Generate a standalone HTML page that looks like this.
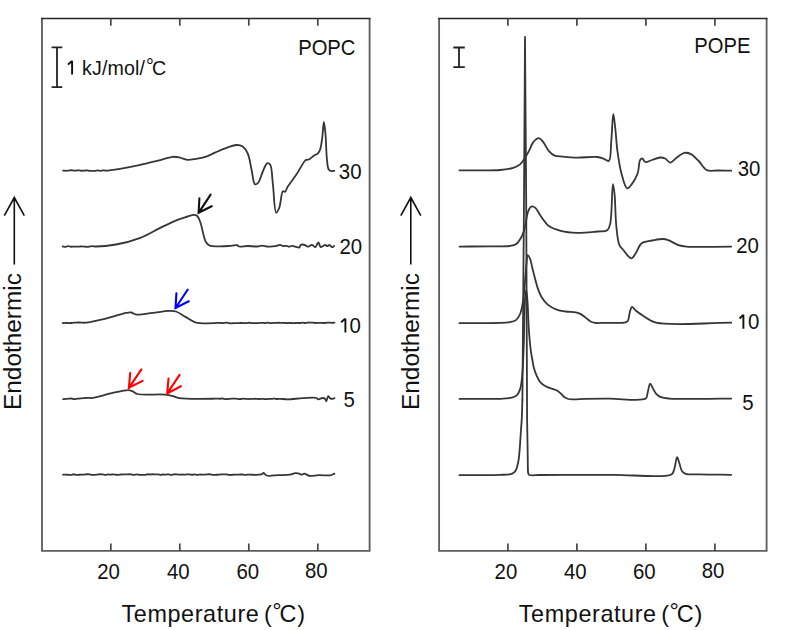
<!DOCTYPE html>
<html><head><meta charset="utf-8"><style>
html,body{margin:0;padding:0;background:#fff;}
svg{display:block;}
text{font-family:"Liberation Sans",sans-serif;fill:#111;}
</style></head><body>
<svg width="787" height="630" viewBox="0 0 787 630">
<g fill="none" stroke="#3a3a3a" stroke-width="1.6">
<path d="M42.0,550.9 V19.0 M369.6,19.0 V550.9 M41.0,550.9 H370.6" stroke="#5e5e5e" stroke-width="1.85"/><path d="M41.0,18.5 H370.6" stroke="#262626" stroke-width="1.6"/><line x1="110.8" y1="18.5" x2="110.8" y2="25.7" stroke="#444" stroke-width="1.7"/><line x1="110.8" y1="550.9" x2="110.8" y2="543.5" stroke="#444" stroke-width="1.7"/><line x1="179.8" y1="18.5" x2="179.8" y2="25.7" stroke="#444" stroke-width="1.7"/><line x1="179.8" y1="550.9" x2="179.8" y2="543.5" stroke="#444" stroke-width="1.7"/><line x1="248.8" y1="18.5" x2="248.8" y2="25.7" stroke="#444" stroke-width="1.7"/><line x1="248.8" y1="550.9" x2="248.8" y2="543.5" stroke="#444" stroke-width="1.7"/><line x1="317.8" y1="18.5" x2="317.8" y2="25.7" stroke="#444" stroke-width="1.7"/><line x1="317.8" y1="550.9" x2="317.8" y2="543.5" stroke="#444" stroke-width="1.7"/>
<path d="M439.1,550.9 V19.0 M766.6,19.0 V550.9 M438.1,550.9 H767.6" stroke="#5e5e5e" stroke-width="1.85"/><path d="M438.1,18.5 H767.6" stroke="#262626" stroke-width="1.6"/><line x1="507.9" y1="18.5" x2="507.9" y2="25.7" stroke="#444" stroke-width="1.7"/><line x1="507.9" y1="550.9" x2="507.9" y2="543.5" stroke="#444" stroke-width="1.7"/><line x1="576.9" y1="18.5" x2="576.9" y2="25.7" stroke="#444" stroke-width="1.7"/><line x1="576.9" y1="550.9" x2="576.9" y2="543.5" stroke="#444" stroke-width="1.7"/><line x1="645.9" y1="18.5" x2="645.9" y2="25.7" stroke="#444" stroke-width="1.7"/><line x1="645.9" y1="550.9" x2="645.9" y2="543.5" stroke="#444" stroke-width="1.7"/><line x1="714.9" y1="18.5" x2="714.9" y2="25.7" stroke="#444" stroke-width="1.7"/><line x1="714.9" y1="550.9" x2="714.9" y2="543.5" stroke="#444" stroke-width="1.7"/>
</g>
<g fill="none" stroke="#363636" stroke-width="1.8" stroke-linejoin="round" stroke-linecap="round">
<path d="M63.10,170.60 C64.08,170.67 65.12,170.82 66.03,170.81 C66.82,170.79 67.45,170.67 68.25,170.59 C69.17,170.49 70.26,170.25 71.24,170.25 C72.17,170.25 73.07,170.54 73.98,170.58 C74.88,170.62 75.77,170.53 76.66,170.51 C77.56,170.49 78.49,170.39 79.35,170.44 C80.17,170.49 80.89,170.72 81.71,170.76 C82.62,170.80 83.66,170.69 84.60,170.63 C85.48,170.56 86.32,170.35 87.16,170.39 C87.99,170.42 88.74,170.74 89.60,170.81 C90.55,170.90 91.66,170.81 92.60,170.81 C93.45,170.82 94.15,170.91 94.99,170.84 C95.95,170.76 97.08,170.30 98.03,170.32 C98.88,170.33 99.62,170.81 100.42,170.81 C101.23,170.82 102.03,170.36 102.89,170.32 C103.82,170.27 104.47,170.62 105.80,170.60 C108.75,170.56 114.85,169.62 120.00,168.80 C126.20,167.82 133.87,166.32 140.40,164.90 C146.50,163.57 152.38,162.00 158.00,160.60 C163.18,159.31 168.82,157.08 172.90,156.80 C175.68,156.61 177.66,157.11 180.00,157.60 C182.39,158.10 184.57,159.56 187.10,159.80 C189.87,160.06 193.00,159.29 196.00,158.80 C199.10,158.30 202.30,157.78 205.40,156.80 C208.63,155.78 211.82,154.07 215.00,152.70 C218.15,151.34 221.02,149.83 224.40,148.60 C228.16,147.23 233.23,145.05 236.60,145.00 C238.98,144.96 240.94,145.39 242.70,146.60 C244.78,148.03 246.42,150.64 247.80,153.70 C249.77,158.06 250.55,165.62 251.80,171.00 C252.89,175.70 253.17,183.23 254.90,184.20 C255.74,184.67 256.96,184.08 257.90,183.20 C259.83,181.41 261.31,174.57 263.00,171.00 C264.37,168.10 265.56,163.86 267.10,163.30 C268.04,162.96 269.28,163.46 270.10,164.50 C272.07,167.01 271.90,176.25 272.80,183.20 C273.93,191.91 274.26,212.27 276.20,212.70 C277.07,212.89 278.38,209.88 279.30,207.60 C280.83,203.79 281.16,192.34 282.90,191.30 C283.53,190.92 284.36,192.18 285.00,191.90 C286.03,191.45 286.37,188.81 287.60,186.80 C289.59,183.54 293.55,178.86 296.40,174.60 C299.39,170.14 303.11,162.37 305.10,160.60 C305.77,160.00 306.16,160.02 306.80,159.80 C307.56,159.54 308.57,159.60 309.40,159.20 C310.34,158.75 311.14,157.83 312.10,157.10 C313.19,156.27 314.60,155.00 315.60,154.50 C316.24,154.18 316.74,154.40 317.30,154.00 C318.20,153.35 319.18,151.93 319.90,150.20 C321.08,147.35 321.56,142.28 322.20,137.90 C322.93,132.93 323.31,121.91 323.90,121.90 C324.41,121.89 325.05,129.24 325.50,134.00 C326.14,140.81 326.16,152.38 326.90,158.90 C327.38,163.16 327.45,167.49 328.70,169.40 C329.38,170.43 330.35,170.87 331.30,171.10 C332.25,171.33 333.37,170.90 334.40,170.80"/>
<path d="M62.70,246.50 C63.74,246.61 64.89,246.91 65.81,246.82 C66.57,246.74 67.10,246.24 67.87,246.19 C68.83,246.13 70.13,246.68 71.14,246.73 C72.00,246.79 72.70,246.65 73.55,246.62 C74.49,246.59 75.59,246.58 76.54,246.57 C77.38,246.56 78.09,246.57 78.93,246.56 C79.86,246.54 80.86,246.44 81.86,246.45 C82.92,246.47 84.10,246.59 85.10,246.66 C85.95,246.71 86.68,246.84 87.49,246.81 C88.32,246.78 89.17,246.57 90.01,246.46 C90.86,246.35 91.68,246.18 92.57,246.18 C93.56,246.17 94.20,246.50 95.70,246.50 C99.51,246.51 108.98,245.80 116.00,244.50 C123.82,243.05 132.78,240.73 140.40,237.80 C147.62,235.02 154.28,230.69 160.70,227.60 C166.41,224.85 172.47,221.89 177.00,220.10 C180.13,218.86 182.40,218.28 185.10,217.40 C187.80,216.52 190.95,214.83 193.20,214.80 C194.79,214.78 196.18,215.05 197.30,216.00 C198.75,217.24 199.46,219.89 200.40,222.50 C201.71,226.13 202.77,232.47 203.80,236.00 C204.48,238.32 204.70,240.09 205.70,241.70 C206.64,243.22 207.75,244.69 209.50,245.50 C211.84,246.58 215.91,246.22 219.10,246.30 C222.27,246.38 225.51,246.19 228.60,246.00 C231.54,245.82 235.41,244.74 237.20,245.20 C238.12,245.44 238.18,246.24 239.10,246.50 C240.88,247.00 244.76,246.01 247.70,246.00 C250.79,245.99 254.58,246.65 257.20,246.50 C259.08,246.39 260.41,245.70 262.00,245.70 C263.58,245.70 265.27,246.34 266.70,246.50 C267.89,246.64 268.77,246.72 270.00,246.70 C271.56,246.67 273.62,246.52 275.30,246.20 C276.88,245.90 278.40,244.85 279.80,244.90 C281.05,244.95 282.14,246.07 283.30,246.20 C284.38,246.32 285.50,245.70 286.50,245.80 C287.42,245.90 288.19,246.68 289.10,246.70 C290.08,246.72 291.13,245.79 292.20,245.80 C293.36,245.81 294.59,246.63 295.80,246.90 C296.99,247.16 298.58,247.83 299.40,247.40 C300.13,247.03 300.06,245.37 300.70,244.90 C301.27,244.48 302.13,244.46 302.90,244.50 C303.76,244.55 304.72,244.94 305.60,245.30 C306.52,245.67 307.34,246.70 308.30,246.70 C309.39,246.70 310.64,244.86 311.80,244.90 C313.00,244.94 314.49,247.33 315.40,247.10 C316.24,246.89 316.62,244.85 317.20,244.00 C317.64,243.36 318.14,242.35 318.50,242.40 C318.88,242.45 319.06,243.77 319.40,244.50 C319.78,245.33 320.04,246.88 320.70,247.10 C321.37,247.33 322.59,246.20 323.40,245.80 C324.06,245.48 324.58,244.88 325.20,244.90 C325.90,244.92 326.67,246.20 327.40,246.20 C328.13,246.20 328.93,244.82 329.60,244.90 C330.27,244.98 330.80,246.34 331.40,246.70 C331.84,246.96 332.28,247.18 332.70,247.10 C333.18,247.01 333.63,246.37 334.10,246.00"/>
<path d="M62.70,323.10 C63.56,323.04 64.40,322.93 65.27,322.93 C66.18,322.93 67.11,323.10 68.06,323.11 C69.06,323.12 70.13,323.06 71.14,322.98 C72.14,322.89 73.13,322.66 74.11,322.59 C75.05,322.52 75.99,322.54 76.90,322.53 C77.77,322.51 78.55,322.48 79.47,322.50 C80.54,322.52 81.85,322.67 82.91,322.70 C83.84,322.72 84.24,322.83 85.50,322.70 C89.07,322.35 99.05,320.22 105.80,318.60 C112.62,316.96 121.67,313.71 126.20,312.90 C128.40,312.51 129.56,312.24 131.20,312.50 C132.92,312.77 134.07,314.28 136.30,314.60 C140.15,315.16 147.18,313.52 152.60,312.90 C158.01,312.28 164.48,310.99 168.80,310.90 C171.68,310.84 173.54,310.75 176.00,311.50 C178.95,312.40 181.98,314.85 185.10,316.60 C188.40,318.45 191.18,321.14 195.30,322.30 C200.65,323.81 211.46,323.22 215.00,323.10 C216.31,323.06 216.79,322.84 217.69,322.81 C218.59,322.78 219.53,322.85 220.39,322.90 C221.17,322.94 221.80,323.09 222.61,323.07 C223.60,323.04 224.90,322.66 225.88,322.63 C226.68,322.61 227.28,322.70 228.05,322.80 C228.94,322.91 229.96,323.24 230.90,323.31 C231.79,323.37 232.69,323.23 233.55,323.19 C234.37,323.15 235.09,323.07 235.95,323.04 C236.94,323.01 238.16,323.05 239.17,323.03 C240.08,323.02 240.92,322.94 241.73,322.95 C242.46,322.95 243.07,323.02 243.84,323.05 C244.77,323.08 245.98,323.16 246.91,323.10 C247.71,323.05 248.33,322.78 249.12,322.77 C250.04,322.77 251.12,323.12 252.12,323.16 C253.12,323.21 254.14,323.07 255.10,323.05 C256.02,323.03 256.91,323.08 257.79,323.04 C258.65,323.00 259.48,322.85 260.35,322.81 C261.25,322.78 262.27,322.77 263.11,322.84 C263.83,322.90 264.38,323.15 265.09,323.14 C265.93,323.12 266.92,322.61 267.84,322.61 C268.78,322.62 269.75,323.14 270.67,323.19 C271.54,323.23 272.35,323.00 273.21,322.94 C274.11,322.88 275.02,322.89 275.94,322.85 C276.87,322.82 277.80,322.73 278.75,322.74 C279.71,322.74 280.71,322.86 281.66,322.89 C282.57,322.93 283.44,322.92 284.33,322.95 C285.23,322.98 286.20,323.08 287.03,323.07 C287.75,323.06 288.28,322.94 289.02,322.93 C289.98,322.92 291.31,323.03 292.32,323.06 C293.16,323.08 293.87,323.10 294.66,323.08 C295.44,323.06 296.19,322.96 297.02,322.94 C297.95,322.93 299.05,323.09 299.97,323.02 C300.77,322.96 301.38,322.65 302.21,322.63 C303.22,322.60 304.56,323.07 305.61,323.02 C306.51,322.98 307.30,322.52 308.11,322.48 C308.84,322.44 309.46,322.67 310.24,322.70 C311.19,322.73 312.45,322.53 313.39,322.61 C314.16,322.67 314.73,322.96 315.46,323.01 C316.29,323.06 317.21,322.84 318.12,322.82 C319.06,322.80 320.01,322.86 321.00,322.89 C322.03,322.92 323.16,323.03 324.17,322.99 C325.10,322.96 326.02,322.80 326.84,322.72 C327.53,322.66 328.07,322.58 328.75,322.58 C329.56,322.58 330.47,322.75 331.37,322.78 C332.34,322.80 333.39,322.73 334.40,322.70"/>
<path d="M63.10,399.10 C64.17,399.00 65.30,398.89 66.32,398.81 C67.24,398.74 68.10,398.69 68.96,398.64 C69.80,398.59 70.60,398.45 71.45,398.51 C72.36,398.57 73.31,399.01 74.27,399.05 C75.26,399.09 76.31,398.80 77.32,398.70 C78.29,398.60 79.22,398.55 80.20,398.47 C81.21,398.38 82.35,398.26 83.31,398.18 C84.16,398.12 84.86,398.06 85.69,398.01 C86.60,397.96 87.59,397.85 88.56,397.86 C89.56,397.88 90.15,398.22 91.60,398.10 C95.39,397.80 105.49,394.56 111.90,393.20 C117.61,391.99 124.58,390.10 128.20,390.20 C130.03,390.25 130.90,390.65 132.30,391.20 C133.93,391.84 134.84,393.33 137.30,394.00 C142.68,395.47 158.37,393.94 164.80,394.60 C168.32,394.96 170.41,395.46 172.90,396.10 C175.10,396.66 176.07,397.61 179.00,398.10 C185.95,399.27 210.17,398.75 215.00,398.70 C216.22,398.69 216.49,398.61 217.28,398.62 C218.13,398.62 219.03,398.75 219.92,398.73 C220.84,398.71 221.78,398.44 222.72,398.50 C223.69,398.55 224.74,399.02 225.64,399.09 C226.40,399.15 227.03,399.03 227.78,398.99 C228.61,398.94 229.56,398.90 230.42,398.83 C231.26,398.76 232.01,398.61 232.88,398.57 C233.89,398.52 235.13,398.51 236.14,398.60 C237.03,398.68 237.84,398.97 238.65,399.03 C239.38,399.09 239.99,399.06 240.75,399.01 C241.66,398.95 242.73,398.67 243.70,398.67 C244.64,398.66 245.63,398.90 246.48,398.96 C247.20,399.02 247.74,399.07 248.47,399.07 C249.38,399.06 250.60,398.92 251.54,398.87 C252.33,398.84 252.98,398.82 253.74,398.80 C254.56,398.79 255.38,398.74 256.27,398.78 C257.28,398.83 258.53,399.12 259.49,399.10 C260.28,399.09 260.87,398.85 261.64,398.83 C262.51,398.82 263.52,399.05 264.46,399.09 C265.40,399.13 266.39,399.12 267.28,399.07 C268.07,399.02 268.75,398.84 269.53,398.81 C270.37,398.77 271.28,398.91 272.14,398.87 C272.99,398.83 273.82,398.54 274.64,398.56 C275.45,398.59 276.19,398.97 277.03,399.02 C277.97,399.07 278.78,398.80 280.00,398.80 C281.95,398.79 284.63,399.31 287.60,399.30 C291.82,399.29 297.94,398.41 302.90,398.20 C307.59,398.00 314.39,397.19 316.60,398.00 C317.44,398.31 317.41,399.15 318.10,399.30 C319.17,399.54 321.43,397.96 322.70,398.00 C323.60,398.03 324.41,398.29 325.00,398.80 C325.64,399.35 325.86,401.33 326.30,401.30 C326.92,401.26 327.40,396.26 328.20,396.10 C328.80,395.98 329.50,397.96 330.30,398.40 C330.99,398.78 331.88,398.85 332.60,398.80 C333.27,398.76 333.87,398.40 334.50,398.20"/>
<path d="M63.10,474.60 C64.04,474.63 64.99,474.65 65.93,474.69 C66.86,474.72 67.80,474.79 68.72,474.81 C69.60,474.82 70.50,474.86 71.34,474.77 C72.12,474.68 72.81,474.27 73.60,474.27 C74.48,474.27 75.50,474.82 76.38,474.91 C77.15,474.99 77.81,474.93 78.58,474.88 C79.45,474.83 80.40,474.62 81.32,474.58 C82.27,474.53 83.31,474.69 84.22,474.63 C85.04,474.57 85.72,474.30 86.56,474.26 C87.54,474.21 88.82,474.34 89.76,474.45 C90.51,474.53 91.06,474.72 91.78,474.79 C92.60,474.86 93.53,474.83 94.40,474.81 C95.27,474.79 96.10,474.77 97.02,474.68 C98.04,474.59 99.29,474.28 100.25,474.25 C101.03,474.23 101.59,474.30 102.36,474.40 C103.31,474.51 104.50,474.94 105.52,474.94 C106.45,474.93 107.34,474.50 108.22,474.45 C109.04,474.41 109.79,474.63 110.63,474.63 C111.53,474.62 112.54,474.37 113.47,474.39 C114.37,474.41 115.29,474.65 116.12,474.73 C116.86,474.81 117.49,474.90 118.22,474.88 C119.02,474.84 119.90,474.59 120.75,474.50 C121.59,474.42 122.41,474.36 123.30,474.35 C124.27,474.34 125.37,474.48 126.36,474.46 C127.29,474.44 128.19,474.24 129.05,474.25 C129.86,474.26 130.58,474.40 131.39,474.49 C132.27,474.58 133.25,474.83 134.16,474.82 C135.05,474.82 135.94,474.48 136.79,474.47 C137.58,474.47 138.30,474.67 139.09,474.74 C139.92,474.82 140.77,474.92 141.69,474.93 C142.72,474.95 143.95,474.90 144.98,474.77 C145.90,474.66 146.71,474.30 147.57,474.26 C148.40,474.22 149.23,474.51 150.03,474.51 C150.79,474.50 151.42,474.29 152.24,474.26 C153.24,474.22 154.56,474.36 155.60,474.38 C156.49,474.39 157.23,474.31 158.07,474.39 C158.97,474.47 159.98,474.90 160.85,474.90 C161.62,474.90 162.23,474.55 163.01,474.49 C163.92,474.43 165.03,474.65 165.98,474.62 C166.88,474.59 167.72,474.30 168.59,474.33 C169.49,474.35 170.41,474.82 171.32,474.81 C172.22,474.80 173.16,474.35 174.02,474.28 C174.77,474.21 175.39,474.26 176.17,474.31 C177.10,474.38 178.27,474.66 179.26,474.68 C180.17,474.70 181.06,474.49 181.90,474.49 C182.65,474.49 183.30,474.63 184.04,474.63 C184.85,474.63 185.72,474.53 186.56,474.47 C187.43,474.42 188.25,474.28 189.17,474.30 C190.21,474.34 191.54,474.76 192.48,474.73 C193.20,474.71 193.66,474.37 194.36,474.36 C195.25,474.36 196.43,474.93 197.38,474.94 C198.22,474.95 198.92,474.59 199.77,474.53 C200.74,474.47 201.92,474.67 202.88,474.67 C203.70,474.67 204.37,474.62 205.19,474.57 C206.13,474.51 207.27,474.34 208.21,474.29 C209.03,474.25 209.75,474.18 210.51,474.27 C211.29,474.36 212.00,474.75 212.85,474.84 C213.85,474.94 215.12,474.79 216.14,474.76 C217.03,474.74 217.82,474.77 218.64,474.69 C219.44,474.62 220.16,474.38 220.99,474.32 C221.92,474.26 223.03,474.33 223.95,474.35 C224.77,474.38 225.45,474.37 226.27,474.46 C227.20,474.55 228.30,474.88 229.22,474.95 C230.04,475.01 230.73,474.98 231.54,474.93 C232.44,474.88 233.49,474.65 234.39,474.59 C235.19,474.54 235.89,474.59 236.67,474.59 C237.49,474.58 238.29,474.54 239.19,474.53 C240.21,474.52 241.49,474.43 242.49,474.51 C243.35,474.59 244.05,474.91 244.84,474.92 C245.63,474.94 246.41,474.64 247.24,474.60 C248.13,474.56 248.77,474.69 250.00,474.70 C252.51,474.71 259.17,475.11 261.40,474.40 C262.45,474.07 262.75,472.97 263.50,473.00 C264.45,473.04 265.10,475.00 266.60,475.50 C269.20,476.37 274.65,475.24 278.60,475.10 C282.45,474.97 286.96,475.18 290.00,474.70 C292.09,474.37 293.57,473.35 295.20,473.20 C296.61,473.07 298.07,473.28 299.20,473.60 C300.10,473.85 300.69,474.67 301.50,474.70 C302.38,474.73 303.23,473.58 304.30,473.60 C305.77,473.63 307.48,475.56 309.50,475.90 C312.07,476.33 315.39,475.21 318.60,475.10 C322.21,474.97 327.23,475.82 330.10,475.30 C331.92,474.97 332.97,474.17 334.40,473.60"/>
<path d="M459.50,170.40 C466.33,170.37 473.21,170.37 480.00,170.30 C486.71,170.23 494.03,170.54 500.00,170.00 C504.90,169.56 509.69,168.98 513.30,167.80 C515.99,166.92 518.13,165.92 520.00,164.40 C521.81,162.93 523.00,160.95 524.40,158.90 C525.98,156.58 527.45,153.81 528.90,151.10 C530.42,148.25 531.41,144.42 533.30,142.20 C534.87,140.35 537.18,138.10 538.90,138.20 C540.50,138.29 541.86,140.48 543.30,142.20 C545.21,144.49 546.80,148.77 548.90,151.10 C550.64,153.04 552.39,154.68 554.60,155.60 C556.95,156.58 559.61,156.30 562.70,156.60 C566.79,157.00 571.81,157.50 577.00,157.60 C583.17,157.72 592.54,156.46 597.30,157.00 C599.96,157.30 601.46,157.92 603.40,158.60 C605.28,159.26 607.47,161.75 608.80,161.00 C611.27,159.60 610.58,147.95 611.30,140.70 C612.12,132.37 612.50,113.82 613.30,113.80 C613.89,113.78 614.68,123.08 615.30,128.50 C616.07,135.15 616.39,143.38 617.40,150.80 C618.42,158.28 619.57,166.53 621.40,173.20 C622.95,178.83 624.85,187.84 627.10,188.40 C628.47,188.74 630.14,186.24 631.60,184.40 C633.72,181.73 636.29,177.21 637.70,173.20 C639.15,169.09 638.75,162.13 640.10,160.00 C640.69,159.06 641.46,158.42 642.20,158.50 C643.20,158.61 644.00,161.62 645.40,162.00 C647.08,162.46 649.61,160.70 651.90,160.00 C654.47,159.21 657.69,157.62 660.10,157.50 C661.96,157.41 663.51,157.76 665.10,158.50 C666.90,159.34 668.42,162.58 670.20,162.60 C672.13,162.62 674.08,159.43 676.30,157.90 C678.77,156.19 681.80,153.41 684.40,152.90 C686.50,152.49 688.45,152.94 690.50,153.90 C693.21,155.17 696.06,158.39 698.70,161.00 C701.50,163.76 703.49,168.54 706.80,170.10 C709.97,171.59 714.11,170.40 718.00,170.50 C722.22,170.61 726.80,170.63 731.20,170.70"/>
<path d="M459.50,246.60 C469.67,246.50 480.90,246.41 490.00,246.30 C497.37,246.21 505.25,246.77 510.00,246.00 C512.73,245.56 514.48,245.30 516.30,244.00 C518.37,242.52 520.08,239.43 521.40,237.10 C522.57,235.02 523.28,233.12 524.00,230.80 C524.83,228.12 525.28,224.92 525.90,221.90 C526.54,218.79 526.91,215.03 527.80,212.40 C528.48,210.39 529.34,208.25 530.30,207.30 C530.89,206.72 531.48,206.40 532.20,206.40 C533.13,206.40 534.34,206.99 535.40,207.90 C537.09,209.37 538.74,213.09 540.40,215.50 C541.94,217.74 543.52,220.06 545.00,221.90 C546.20,223.40 546.80,224.59 548.50,225.80 C551.21,227.72 556.25,229.72 560.70,230.90 C565.66,232.21 571.26,232.75 577.00,232.90 C583.39,233.07 591.74,232.03 597.30,231.50 C601.19,231.13 605.05,231.87 607.20,230.30 C609.02,228.97 609.38,226.99 610.20,223.80 C612.12,216.27 611.86,184.15 612.90,184.10 C613.40,184.07 614.04,189.28 614.50,193.30 C615.36,200.81 615.29,216.39 616.30,225.80 C617.09,233.09 617.52,240.88 619.40,245.10 C620.48,247.54 622.15,248.50 623.50,250.20 C624.85,251.90 626.06,253.90 627.50,255.30 C628.78,256.54 630.31,258.46 631.60,258.30 C633.06,258.11 634.36,255.29 635.70,253.30 C637.41,250.76 638.99,245.95 640.70,244.10 C641.72,243.00 642.46,242.64 643.80,242.10 C645.81,241.29 648.97,240.98 651.90,240.50 C655.32,239.93 660.10,238.88 663.10,239.00 C665.14,239.08 666.26,239.43 668.20,240.10 C671.07,241.10 675.12,244.02 678.40,245.10 C681.19,246.02 682.69,246.25 686.50,246.60 C695.38,247.41 716.30,246.60 731.20,246.60"/>
<path d="M459.50,323.20 C476.30,322.87 501.29,323.73 509.90,322.20 C512.98,321.65 514.33,321.38 516.00,320.10 C517.78,318.73 519.00,316.55 520.10,314.00 C521.59,310.54 522.31,305.70 523.10,300.80 C524.08,294.79 524.51,287.09 525.10,280.50 C525.66,274.24 526.08,266.88 526.60,262.20 C526.93,259.28 526.87,255.26 527.60,255.10 C528.18,254.97 529.38,257.25 530.10,258.90 C531.19,261.39 531.75,265.63 532.60,269.00 C533.45,272.39 534.32,275.92 535.20,279.20 C536.02,282.27 536.67,285.17 537.70,288.10 C538.76,291.10 539.83,294.26 541.50,297.00 C543.19,299.77 545.29,302.51 547.80,304.60 C550.35,306.73 553.64,308.45 556.70,309.60 C559.59,310.69 562.52,311.04 565.60,311.50 C568.87,311.99 573.03,311.82 575.80,312.40 C577.79,312.82 579.19,313.25 580.80,314.10 C582.57,315.03 584.20,316.63 585.90,317.90 C587.60,319.17 589.21,320.85 591.00,321.70 C592.63,322.48 594.15,322.78 596.10,323.00 C598.64,323.29 601.42,322.88 605.00,322.80 C610.43,322.67 622.08,323.38 625.50,322.30 C626.78,321.90 627.25,321.65 627.90,320.70 C629.08,318.99 629.18,314.03 630.00,311.50 C630.60,309.64 631.06,306.98 632.00,306.80 C632.95,306.62 634.16,309.20 635.70,310.50 C637.82,312.28 640.76,314.33 643.80,316.20 C647.39,318.41 649.93,321.18 656.00,322.70 C670.16,326.24 706.13,322.70 731.20,322.70"/>
<path d="M459.50,398.90 C476.97,398.50 503.69,399.70 511.90,397.70 C514.60,397.04 515.66,396.52 517.00,395.20 C518.47,393.75 519.30,391.56 520.10,389.10 C521.18,385.80 521.57,381.78 522.10,376.90 C522.89,369.70 523.17,360.35 523.60,350.00 C524.19,335.90 524.24,310.29 525.00,300.00 C525.34,295.38 525.80,290.00 526.20,290.00 C526.60,290.00 527.04,295.76 527.40,300.00 C528.02,307.35 528.25,321.14 528.90,330.20 C529.43,337.64 530.08,345.01 530.80,350.50 C531.29,354.27 531.87,357.01 532.40,360.00 C532.87,362.68 533.14,365.09 533.80,367.60 C534.47,370.16 535.33,372.77 536.40,375.20 C537.46,377.60 538.59,380.21 540.20,382.10 C541.70,383.86 543.60,385.19 545.60,386.30 C547.66,387.44 550.35,388.05 552.40,388.80 C554.08,389.42 555.60,389.71 557.00,390.50 C558.39,391.28 559.56,392.40 560.80,393.50 C562.10,394.66 563.24,396.36 564.60,397.30 C565.80,398.12 566.95,398.65 568.40,399.00 C570.16,399.42 572.19,399.30 574.50,399.30 C577.53,399.30 580.75,398.92 585.00,398.80 C591.55,398.62 600.93,398.64 610.00,398.60 C620.84,398.56 641.14,401.88 645.70,398.60 C647.57,397.25 646.95,395.04 647.60,392.90 C648.41,390.21 649.04,383.85 650.10,383.70 C650.88,383.59 651.85,386.54 652.80,388.10 C653.87,389.87 654.78,392.26 656.20,393.80 C657.54,395.25 659.06,396.40 661.00,397.20 C663.34,398.16 665.77,398.28 669.50,398.60 C676.51,399.21 689.78,398.90 700.00,398.90 C710.34,398.90 720.80,398.70 731.20,398.60"/>
<path d="M459.50,475.20 C466.33,475.17 473.21,475.17 480.00,475.10 C486.71,475.03 494.56,474.98 500.00,474.80 C503.75,474.67 507.07,474.80 509.50,474.30 C511.08,473.97 512.24,473.58 513.30,472.90 C514.27,472.28 515.08,471.47 515.70,470.50 C516.38,469.44 516.67,468.16 517.10,466.70 C517.66,464.80 518.21,462.38 518.60,460.00 C519.04,457.32 519.24,454.34 519.50,451.40 C519.78,448.31 519.97,445.28 520.20,441.90 C520.47,438.04 520.73,433.36 521.00,429.50 C521.23,426.12 521.50,423.75 521.70,420.00 C522.00,414.56 522.17,406.67 522.40,400.00"/>
<path d="M522.4,400.0 L524.0,200.0 L525.0,37.0 L526.2,200.0 L527.1,420.0 L527.6,448.6 L527.9,470.0"/>
<path d="M527.90,470.00 C528.03,471.20 527.92,472.72 528.30,473.60 C528.57,474.23 528.78,474.67 529.50,475.00 C531.21,475.78 535.37,475.01 540.00,475.00 C549.03,474.99 567.11,474.93 580.00,474.90 C592.06,474.87 601.95,474.86 615.00,474.80 C631.57,474.72 664.53,478.54 671.40,474.40 C673.66,473.04 673.46,471.21 674.30,469.00 C675.48,465.89 676.10,457.26 677.10,457.20 C677.83,457.15 678.64,461.14 679.40,463.30 C680.24,465.71 680.60,469.20 681.90,471.00 C682.89,472.38 683.90,473.17 685.70,473.80 C688.84,474.91 694.31,474.24 700.00,474.40 C708.40,474.63 720.80,474.67 731.20,474.80"/>
</g>
<g fill="none" stroke="#222" stroke-width="1.8">
<path d="M51.6,47.4 H62.3 M57,47.4 V87.1 M51.6,87.1 H62.3"/>
<path d="M453.3,47.5 H464.8 M459,47.5 V67.1 M453.3,67.1 H464.8"/>
</g>
<path d="M210.6,194.6 L198.6,212.8 M199.4,198.2 L198.6,212.8 L211.7,206.2" stroke="#111" fill="none" stroke-width="2.1" stroke-linecap="round"/><path d="M187.8,289.5 L175.5,308.0 M176.4,293.3 L175.5,308.0 L188.8,301.3" stroke="#0000ff" fill="none" stroke-width="2.1" stroke-linecap="round"/><path d="M141.4,369.3 L128.9,387.8 M130.2,373.1 L128.9,387.8 L142.7,380.9" stroke="#ff0000" fill="none" stroke-width="2.1" stroke-linecap="round"/><path d="M179.6,374.9 L167.2,393.4 M168.5,378.5 L167.2,393.4 L180.9,386.2" stroke="#ff0000" fill="none" stroke-width="2.1" stroke-linecap="round"/>
<path d="M72.1,74.6 V60.8 M71.89999999999999,61.0 L68.0,64.6" fill="none" stroke="#111" stroke-width="1.9"/>
<path d="M345.4,332.6 V318.4 M345.2,318.6 L341.20000000000005,322.3" fill="none" stroke="#111" stroke-width="1.9"/>
<path d="M743.4,328.7 V314.59999999999997 M743.1999999999999,314.8 L739.6,318.5" fill="none" stroke="#111" stroke-width="1.9"/>
<text y="75.1" font-size="19.6"><tspan x="82.1" letter-spacing="0.15">kJ/mol/</tspan><tspan x="146" dy="-1.8">°</tspan><tspan x="152" dy="1.8">C</tspan></text>
<text transform="translate(298.16,54.90) scale(1,1.08)" font-size="20.2">POPC</text>
<text transform="translate(694.37,52.50) scale(1,1.08)" font-size="20.2">POPE</text>
<text transform="translate(338.80,179.00) scale(1,1.08)" font-size="20.4">30</text>
<text transform="translate(339.43,253.50) scale(1,1.08)" font-size="20.4">20</text>
<text transform="translate(349.56,332.80) scale(1,1.08)" font-size="20.4">0</text>
<text transform="translate(343.39,406.50) scale(1,1.08)" font-size="20.4">5</text>
<text transform="translate(737.66,175.50) scale(1,1.08)" font-size="20.4">30</text>
<text transform="translate(736.27,252.50) scale(1,1.08)" font-size="20.4">20</text>
<text transform="translate(747.95,329.10) scale(1,1.08)" font-size="20.4">0</text>
<text transform="translate(742.32,409.50) scale(1,1.08)" font-size="20.4">5</text>
<text transform="translate(97.27,579.00) scale(1,1.08)" font-size="20.4">20</text>
<text transform="translate(166.88,579.00) scale(1,1.08)" font-size="20.4">40</text>
<text transform="translate(236.40,579.00) scale(1,1.08)" font-size="20.4">60</text>
<text transform="translate(304.96,578.00) scale(1,1.08)" font-size="20.4">80</text>
<text transform="translate(494.60,579.00) scale(1,1.08)" font-size="20.4">20</text>
<text transform="translate(563.88,579.00) scale(1,1.08)" font-size="20.4">40</text>
<text transform="translate(632.90,579.00) scale(1,1.08)" font-size="20.4">60</text>
<text transform="translate(701.70,577.50) scale(1,1.08)" font-size="20.4">80</text>

<text y="621.7" font-size="23.4" letter-spacing="0.6"><tspan x="121.5">Temperature</tspan><tspan x="264.0">(</tspan><tspan x="272.2" dy="-2.3">°</tspan><tspan x="279.5" dy="2.3">C</tspan><tspan x="297.3">)</tspan></text>
<text y="621.7" font-size="23.4" letter-spacing="0.6"><tspan x="518.8">Temperature</tspan><tspan x="661.3">(</tspan><tspan x="669.5" dy="-2.3">°</tspan><tspan x="676.8" dy="2.3">C</tspan><tspan x="694.6">)</tspan></text>
<g transform="translate(21.2,410) rotate(-90)"><text x="0" y="0" font-size="24.4">Endothermic</text></g>
<g transform="translate(419.2,410) rotate(-90)"><text x="0" y="0" font-size="24.4">Endothermic</text></g>
<g fill="none" stroke="#111" stroke-width="1.6">
<path d="M14.3,264.4 V198 M4.3,215.6 L14.3,197.5 L24.3,215.6"/>
<path d="M410.8,264.4 V198 M400.8,215.6 L410.8,197.5 L420.8,215.6"/>
</g>
</svg>
</body></html>
